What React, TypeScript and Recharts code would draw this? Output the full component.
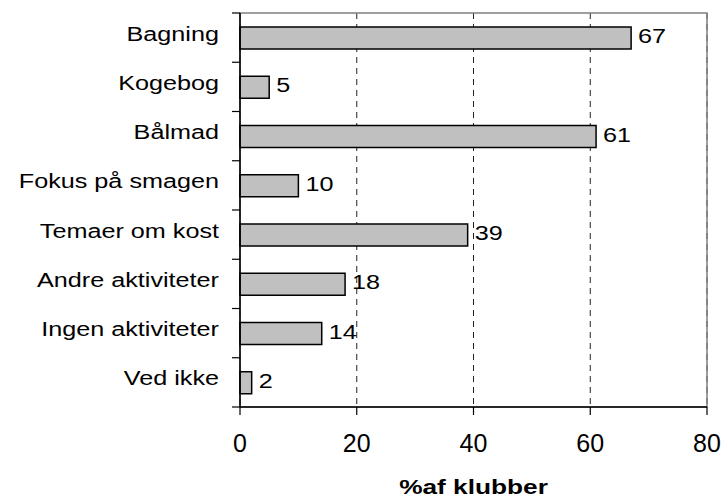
import React from 'react';
import { BarChart, Bar, XAxis, YAxis, CartesianGrid, LabelList, ReferenceArea } from 'recharts';

const categories = ['Bagning', 'Kogebog', 'Bålmad', 'Fokus på smagen', 'Temaer om kost', 'Andre aktiviteter', 'Ingen aktiviteter', 'Ved ikke'];
const values = [67, 5, 61, 10, 39, 18, 14, 2];
const xTicks = [0, 20, 40, 60, 80];
const axisTitle = '%af klubber';

const data = categories.map((c, i) => ({ name: c, value: values[i] }));

const W = 722;
const H = 499;
const MARGIN = { top: 13, right: 15, bottom: 0, left: 0 };
const Y_AXIS_W = 240;
const X_AXIS_H = 92;
const PLOT_LEFT = MARGIN.left + Y_AXIS_W;
const PLOT_TOP = MARGIN.top;
const PLOT_BOTTOM = H - MARGIN.bottom - X_AXIS_H;
const BAND = (PLOT_BOTTOM - PLOT_TOP) / categories.length;
const FONT = '"Liberation Sans", Arial, sans-serif';
const STRETCH = 1.2;

const YTick = (props: any) => {
  const { x, y, payload, index } = props;
  const top = y - BAND / 2;
  return (
    <g>
      <line x1={PLOT_LEFT - 8} x2={PLOT_LEFT} y1={top} y2={top} stroke="#000" strokeWidth={1.2} />
      {index === categories.length - 1 && (
        <line x1={PLOT_LEFT - 8} x2={PLOT_LEFT} y1={y + BAND / 2} y2={y + BAND / 2} stroke="#000" strokeWidth={1.2} />
      )}
      <g transform={`translate(${x},${y})`}>
        <text transform={`scale(${STRETCH},1)`} textAnchor="end" dy={3} fontSize={21} fontFamily={FONT} fill="#000">
          {payload.value}
        </text>
      </g>
    </g>
  );
};

const ValueLabel = (props: any) => {
  const { x, y, width, height, value } = props;
  const tx = x + width + 7;
  const ty = y + height / 2;
  return (
    <g transform={`translate(${tx},${ty})`}>
      <text transform={`scale(${STRETCH},1)`} textAnchor="start" dy={5} fontSize={21} fontFamily={FONT} fill="#000">
        {value}
      </text>
    </g>
  );
};

const TitleLabel = (props: any) => {
  const vb = props.viewBox || {};
  const cx = vb.x + vb.width / 2;
  const by = vb.y + vb.height - 5;
  return (
    <g transform={`translate(${cx},${by})`}>
      <text transform="scale(1.25,1)" textAnchor="middle" fontSize={21} fontWeight="bold" fontFamily={FONT} fill="#000">
        {axisTitle}
      </text>
    </g>
  );
};

export default function App() {
  return (
    <div style={{ position: 'absolute', left: 0, top: 0, width: W, height: H, background: '#fff' }}>
      <BarChart width={W} height={H} data={data} layout="vertical" margin={MARGIN}>
        <CartesianGrid horizontal={false} vertical={true} stroke="#222" strokeDasharray="6 5" strokeWidth={1} />
        <ReferenceArea x1={0} x2={80} fill="none" fillOpacity={0} stroke="#808080" strokeWidth={1.5} />
        <XAxis
          type="number"
          domain={[0, 80]}
          ticks={xTicks}
          interval={0}
          height={X_AXIS_H}
          tickSize={8}
          tickMargin={19}
          stroke="#000"
          axisLine={{ stroke: '#000', strokeWidth: 1.5 }}
          tickLine={{ stroke: '#000', strokeWidth: 1.2 }}
          tick={{ fontSize: 25, fontFamily: FONT, fill: '#000' }}
          label={<TitleLabel />}
        />
        <YAxis
          type="category"
          dataKey="name"
          width={Y_AXIS_W}
          tickSize={8}
          tickMargin={13}
          interval={0}
          axisLine={{ stroke: '#000', strokeWidth: 1.5 }}
          tickLine={false}
          tick={<YTick />}
        />
        <Bar dataKey="value" fill="#c0c0c0" stroke="#000" strokeWidth={1.5} barSize={22} isAnimationActive={false}>
          <LabelList dataKey="value" content={<ValueLabel />} />
        </Bar>
      </BarChart>
    </div>
  );
}
